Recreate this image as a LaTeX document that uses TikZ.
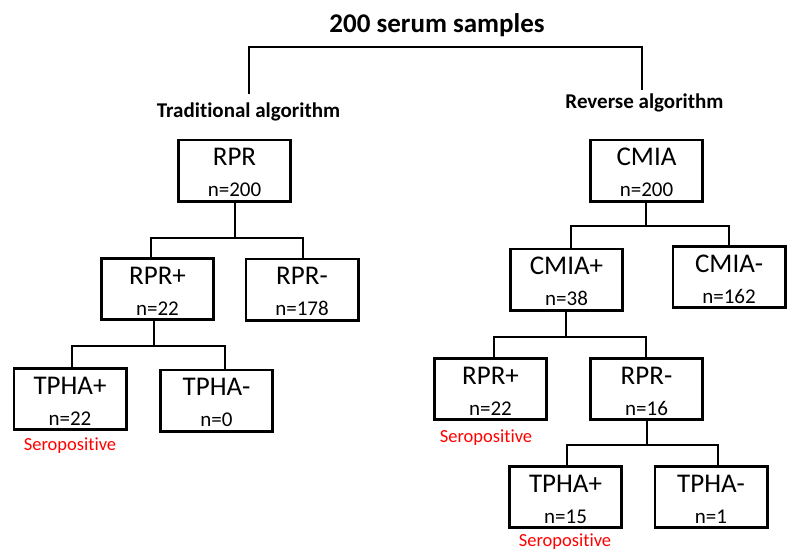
\documentclass[tikz,border=0pt]{standalone}
\usepackage{fontspec}
\setmainfont{Carlito}[Ligatures=NoCommon]

% A test box: outlined rectangle with the test name and its count
\newcommand{\testbox}[5]{% name, x, y, heading, count
  \node[testbox] (#1) at (#2,#3) {};
  \node[head]  (#1-h) at ([yshift=-27pt]#1.north) {#4};
  \node[count] (#1-n) at ([yshift=-58pt]#1.north) {#5};
}

\tikzset{
  testbox/.style={draw=black, line width=2.6pt, minimum width=112.4pt,
    minimum height=61.4pt, inner sep=0pt, fill=white},
  head/.style={anchor=base, inner sep=0pt, font=\fontsize{27}{30}\selectfont},
  count/.style={anchor=base, inner sep=0pt, font=\fontsize{21}{24}\selectfont},
  algo/.style={anchor=base, inner sep=0pt, font=\bfseries\fontsize{21}{24}\selectfont},
  sero/.style={anchor=base, inner sep=0pt, text=red, font=\fontsize{18.5}{21}\selectfont},
  conn/.style={draw=black, line width=2pt},
}

\begin{document}
\begin{tikzpicture}[x=1pt, y=-1pt]
  \useasboundingbox (0,0) rectangle (799,555);
  \fill[white] (0,0) rectangle (799,555);

  % Heading and the split into the two algorithms
  \node[anchor=base, inner sep=0pt, font=\bfseries\fontsize{27}{30}\selectfont]
    (title) at (437,32) {200 serum samples};
  \node[algo] (trad) at (248.5,117) {Traditional algorithm};
  \node[algo] (rev)  at (644.5,108) {Reverse algorithm};
  \coordinate (tl) at (249,47);
  \coordinate (tr) at (642,47);
  \draw[conn] (tl |- trad.north) ++(0,-8) |- (tr) -- ([yshift=3pt]tr |- rev.north);

  % Traditional algorithm
  \testbox{rpr}{234.5}{170.5}{RPR}{n=200}
  \testbox{rprpos}{157.5}{289}{RPR+}{n=22}
  \testbox{rprneg}{302}{289.5}{RPR-}{n=178}
  \testbox{tphaposL}{70}{399}{TPHA+}{n=22}
  \testbox{tphanegL}{216.5}{400.5}{TPHA-}{n=0}
  \node[sero] (seroL) at (70,450) {Seropositive};

  \coordinate (b1) at (235,238);
  \coordinate (b1l) at (151,238);
  \coordinate (b1r) at (303,238);
  \draw[conn] (b1 |- rpr.south) -- (b1);
  \draw[conn] (b1l |- rprpos.north) -- (b1l) -- (b1r) -- (b1r |- rprneg.north);

  \coordinate (b2) at (154,346);
  \coordinate (b2l) at (72,346);
  \coordinate (b2r) at (225,346);
  \draw[conn] (b2 |- rprpos.south) -- (b2);
  \draw[conn] (b2l |- tphaposL.north) -- (b2l) -- (b2r) -- (b2r |- tphanegL.north);

  % Reverse algorithm
  \testbox{cmia}{646.5}{170.5}{CMIA}{n=200}
  \testbox{cmiapos}{566.5}{279.5}{CMIA+}{n=38}
  \testbox{cmianeg}{729}{277}{CMIA-}{n=162}
  \testbox{rprposR}{490.5}{389}{RPR+}{n=22}
  \testbox{rprnegR}{646.5}{389}{RPR-}{n=16}
  \testbox{tphaposR}{565.5}{497}{TPHA+}{n=15}
  \testbox{tphanegR}{711}{497}{TPHA-}{n=1}
  \node[sero] (seroR1) at (486,442) {Seropositive};
  \node[sero] (seroR2) at (565,546) {Seropositive};

  \coordinate (b3) at (646,226);
  \coordinate (b3l) at (571,226);
  \coordinate (b3r) at (729,226);
  \draw[conn] (b3 |- cmia.south) -- (b3);
  \draw[conn] (b3l |- cmiapos.north) -- (b3l) -- (b3r) -- (b3r |- cmianeg.north);

  \coordinate (b4) at (566,337);
  \coordinate (b4l) at (494,337);
  \coordinate (b4r) at (646,337);
  \draw[conn] (b4 |- cmiapos.south) -- (b4);
  \draw[conn] (b4l |- rprposR.north) -- (b4l) -- (b4r) -- (b4r |- rprnegR.north);

  \coordinate (b5) at (647,445);
  \coordinate (b5l) at (567,445);
  \coordinate (b5r) at (718,445);
  \draw[conn] (b5 |- rprnegR.south) -- (b5);
  \draw[conn] (b5l |- tphaposR.north) -- (b5l) -- (b5r) -- (b5r |- tphanegR.north);
\end{tikzpicture}
\end{document}
